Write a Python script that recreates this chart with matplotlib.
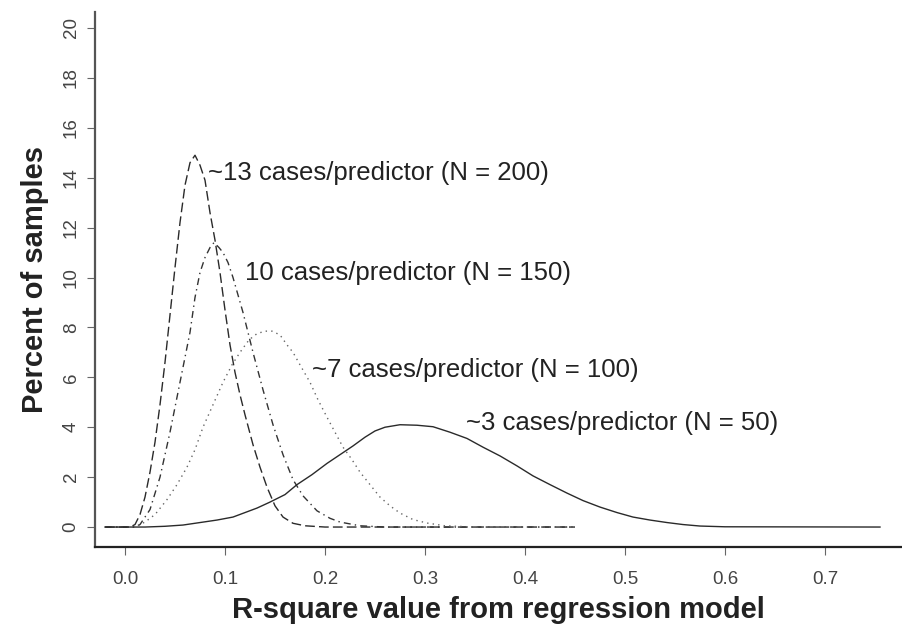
import matplotlib.pyplot as plt

plt.rcParams['font.family'] = ['Liberation Sans', 'DejaVu Sans']

# simulated sampling distributions of R-square, in percent of samples
r2_n200 = [-0.02, 0.005, 0.010, 0.015, 0.020, 0.025, 0.030, 0.035, 0.040, 0.045,
           0.050, 0.055, 0.060, 0.065, 0.070, 0.075, 0.080, 0.085, 0.090, 0.095,
           0.100, 0.105, 0.110, 0.115, 0.120, 0.128, 0.135, 0.142, 0.150, 0.158,
           0.168, 0.180, 0.200, 0.45]
pct_n200 = [0, 0, 0.1, 0.5, 1.2, 2.2, 3.4, 4.9, 6.6, 8.5,
            10.4, 12.2, 13.7, 14.6, 14.9, 14.5, 13.9, 12.6, 11.5, 10.2,
            8.7, 7.3, 6.2, 5.3, 4.5, 3.3, 2.4, 1.6, 0.85, 0.4,
            0.15, 0.05, 0, 0]

r2_n150 = [-0.02, 0.010, 0.015, 0.025, 0.035, 0.045, 0.055, 0.065, 0.070, 0.075,
           0.080, 0.085, 0.089, 0.094, 0.098, 0.103, 0.108, 0.118, 0.128, 0.138,
           0.148, 0.158, 0.168, 0.178, 0.192, 0.205, 0.215, 0.235, 0.260, 0.45]
pct_n150 = [0, 0, 0.1, 0.7, 2.0, 3.8, 5.8, 7.8, 9.2, 10.2,
            10.8, 11.2, 11.4, 11.2, 11.0, 10.6, 10.0, 8.6, 7.0, 5.5,
            4.1, 2.9, 1.9, 1.25, 0.65, 0.35, 0.2, 0.05, 0, 0]

r2_n100 = [-0.02, 0.010, 0.020, 0.030, 0.042, 0.052, 0.062, 0.070, 0.078, 0.088,
           0.098, 0.107, 0.115, 0.124, 0.132, 0.140, 0.147, 0.155, 0.162, 0.168,
           0.175, 0.185, 0.193, 0.202, 0.210, 0.218, 0.227, 0.235, 0.245, 0.255,
           0.265, 0.275, 0.288, 0.302, 0.320, 0.350, 0.45]
pct_n100 = [0, 0, 0.2, 0.5, 1.1, 1.7, 2.4, 3.1, 4.0, 4.9,
            5.8, 6.5, 7.0, 7.5, 7.75, 7.85, 7.85, 7.7, 7.3, 7.0,
            6.5, 5.8, 5.1, 4.4, 3.8, 3.2, 2.7, 2.2, 1.7, 1.2,
            0.85, 0.56, 0.3, 0.16, 0.05, 0, 0]

r2_n50 = [-0.02, 0.020, 0.040, 0.058, 0.075, 0.092, 0.108, 0.120, 0.132, 0.145,
          0.160, 0.172, 0.187, 0.202, 0.215, 0.228, 0.240, 0.250, 0.260, 0.275,
          0.292, 0.308, 0.325, 0.342, 0.358, 0.375, 0.392, 0.408, 0.425, 0.442,
          0.458, 0.475, 0.492, 0.508, 0.525, 0.542, 0.558, 0.575, 0.600, 0.755]
pct_n50 = [0, 0, 0.03, 0.08, 0.18, 0.28, 0.4, 0.58, 0.76, 1.0,
           1.3, 1.7, 2.1, 2.55, 2.9, 3.25, 3.6, 3.85, 4.0, 4.1,
           4.08, 4.02, 3.8, 3.55, 3.2, 2.85, 2.45, 2.05, 1.7, 1.36,
           1.06, 0.8, 0.58, 0.4, 0.28, 0.18, 0.1, 0.04, 0.01, 0]

labels = ['~13 cases/predictor (N = 200)', '10 cases/predictor (N = 150)',
          '~7 cases/predictor (N = 100)', '~3 cases/predictor (N = 50)']
label_x = [0.083, 0.120, 0.187, 0.341]
label_y = [14.2, 10.2, 6.3, 4.17]

xticks = [0.0, 0.1, 0.2, 0.3, 0.4, 0.5, 0.6, 0.7]
yticks = list(range(0, 21, 2))

fig = plt.figure(figsize=(9.02, 6.32), dpi=100)
ax = fig.add_axes([95 / 902, 85 / 632, 807 / 902, 535 / 632])

ax.plot(r2_n200, pct_n200, color='#2a2a2a', lw=1.0, linestyle=(0, (7, 3)))
ax.plot(r2_n150, pct_n150, color='#333333', lw=1.0, linestyle=(0, (5, 3, 1, 3)))
ax.plot(r2_n100, pct_n100, color='#666666', lw=1.0, linestyle=(0, (1, 3)))
ax.plot(r2_n50, pct_n50, color='#2a2a2a', lw=1.0)

for txt, tx, ty in zip(labels, label_x, label_y):
    ax.text(tx, ty, txt, ha='left', va='center', fontsize=18.5, color='#222222')

ax.set_xlim(-0.03, 0.777)
ax.set_ylim(-0.8, 20.64)
ax.set_xticks(xticks)
ax.set_xticklabels([f'{v:.1f}' for v in xticks])
ax.set_yticks(yticks)
ax.set_yticklabels([str(v) for v in yticks], rotation=90, va='center')

ax.spines['top'].set_visible(False)
ax.spines['right'].set_visible(False)
ax.spines['left'].set_linewidth(1.6)
ax.spines['bottom'].set_linewidth(1.6)
ax.spines['left'].set_color('#555555')
ax.spines['bottom'].set_color('#222222')
ax.tick_params(axis='both', direction='out', length=6, width=0.8, color='#666666',
               labelsize=13.5, labelcolor='#444444')
ax.tick_params(axis='x', pad=11)
ax.tick_params(axis='y', pad=5)

ax.set_xlabel('R-square value from regression model', fontsize=21,
              fontweight='bold', color='#222222', labelpad=6)
ax.set_ylabel('Percent of samples', fontsize=21, fontweight='bold',
              color='#222222', labelpad=10)

fig.savefig('out.png', dpi=100)
